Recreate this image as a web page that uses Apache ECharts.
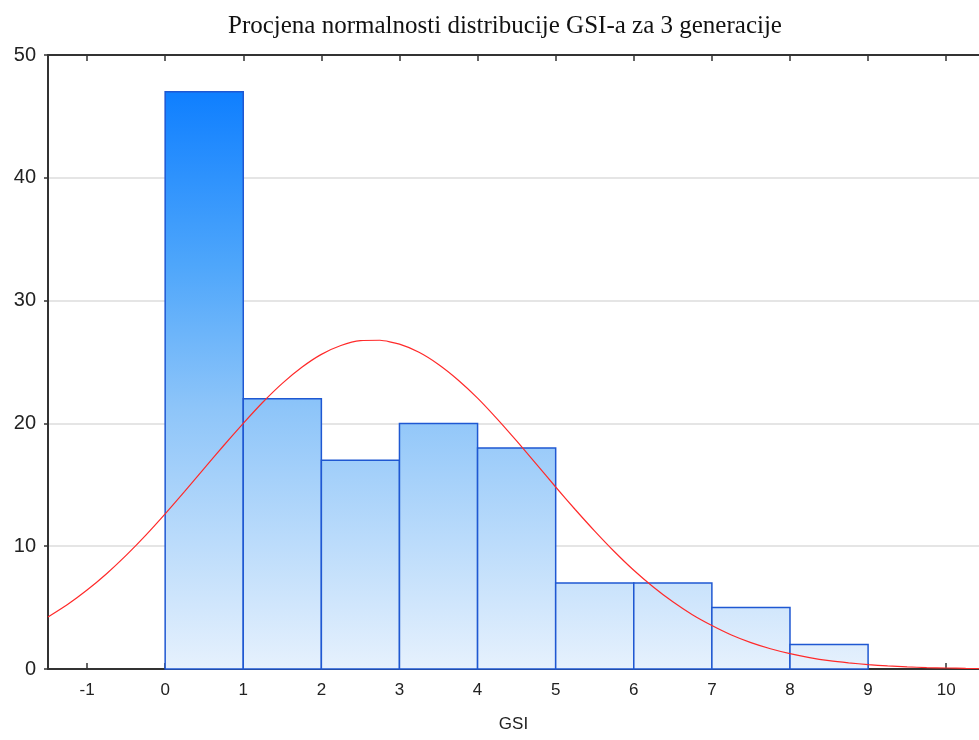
<!DOCTYPE html>
<html>
<head>
<meta charset="utf-8">
<script src="https://cdn.jsdelivr.net/npm/echarts@6/dist/echarts.min.js"></script>
<style>
  html, body { margin: 0; padding: 0; background: #fff; }
  #chart { width: 979px; height: 740px; }
</style>
</head>
<body>
<div id="chart"></div>
<script>
// histogram bins (GSI) and counts
const binStart = [0, 1, 2, 3, 4, 5, 6, 7, 8];
const binEnd = [1, 2, 3, 4, 5, 6, 7, 8, 9];
const counts = [47, 22, 17, 20, 18, 7, 7, 5, 2];

// expected normal curve
const curveX = [-1.5, -1.25, -1, -0.75, -0.5, -0.25, 0, 0.25, 0.5, 0.75, 1, 1.25, 1.5, 1.75, 2, 2.25, 2.5, 2.75,
  3, 3.25, 3.5, 3.75, 4, 4.25, 4.5, 4.75, 5, 5.25, 5.5, 5.75, 6, 6.25, 6.5, 6.75, 7, 7.25, 7.5, 7.75,
  8, 8.25, 8.5, 8.75, 9, 9.25, 9.5, 9.75, 10, 10.25, 10.5];
const curveY = [4.23, 5.25, 6.43, 7.76, 9.25, 10.88, 12.63, 14.46, 16.33, 18.2, 20.0, 21.72, 23.26, 24.57, 25.62, 26.34, 26.74, 26.77,
  26.45, 25.79, 24.8, 23.54, 22.06, 20.37, 18.57, 16.7, 14.82, 12.99, 11.23, 9.57, 8.04, 6.68, 5.47, 4.42, 3.54, 2.77, 2.15, 1.65,
  1.25, 0.93, 0.68, 0.5, 0.36, 0.25, 0.17, 0.12, 0.08, 0.05, 0.03];

const xTicks = [-1, 0, 1, 2, 3, 4, 5, 6, 7, 8, 9, 10];

const chart = echarts.init(document.getElementById("chart"));

const barData = binStart.map((s, i) => [s, binEnd[i], counts[i]]);
const lineData = curveX.map((x, i) => [x, curveY[i]]);

const options = {
  animation: false,
  title: {
    text: "Procjena normalnosti distribucije GSI-a za 3 generacije",
    left: 223,
    top: 9,
    textStyle: {
      fontFamily: "Liberation Serif",
      fontWeight: "normal",
      fontSize: 25,
      color: "#111"
    }
  },
  grid: {
    left: 48,
    right: 0,
    top: 55,
    bottom: 71
  },
  xAxis: [
    {
      type: "value",
      min: -1.5,
      max: 10.42,
      interval: 0.5,
      name: "GSI",
      nameLocation: "middle",
      nameGap: 47,
      nameTextStyle: { fontFamily: "Liberation Sans", fontSize: 17, color: "#222" },
      axisLine: { show: true, onZero: false, lineStyle: { color: "#333", width: 2 } },
      axisTick: {
        show: true,
        inside: true,
        length: 6,
        customValues: xTicks,
        lineStyle: { color: "#333", width: 1.5 }
      },
      axisLabel: {
        margin: 13,
        fontFamily: "Liberation Sans",
        fontSize: 17,
        color: "#222",
        customValues: xTicks
      },
      splitLine: { show: false }
    },
    {
      type: "value",
      position: "top",
      min: -1.5,
      max: 10.42,
      interval: 0.5,
      axisLine: { show: true, onZero: false, lineStyle: { color: "#333", width: 2 } },
      axisTick: {
        show: true,
        inside: true,
        length: 6,
        customValues: xTicks,
        lineStyle: { color: "#333", width: 1.5 }
      },
      axisLabel: { show: false },
      splitLine: { show: false }
    }
  ],
  yAxis: {
    type: "value",
    min: 0,
    max: 50,
    interval: 10,
    axisLine: { show: true, onZero: false, lineStyle: { color: "#333", width: 2 } },
    axisTick: { show: true, length: 4, lineStyle: { color: "#333", width: 1.5 } },
    axisLabel: {
      margin: 12,
      fontFamily: "Liberation Sans",
      fontSize: 20,
      color: "#222"
    },
    splitLine: { show: true, lineStyle: { color: "#dcdcdc", width: 1.5 } }
  },
  series: [
    {
      name: "GSI",
      type: "custom",
      renderItem: function (params, api) {
        const topLeft = api.coord([api.value(0), api.value(2)]);
        const bottomRight = api.coord([api.value(1), 0]);
        const gTop = api.coord([0, 47])[1];
        const gBottom = api.coord([0, 0])[1];
        return {
          type: "rect",
          shape: {
            x: topLeft[0],
            y: topLeft[1],
            width: bottomRight[0] - topLeft[0],
            height: bottomRight[1] - topLeft[1]
          },
          style: {
            fill: new echarts.graphic.LinearGradient(0, gTop, 0, gBottom, [
              { offset: 0, color: "#0f7fff" },
              { offset: 0.3, color: "#4ea6fb" },
              { offset: 0.55, color: "#8ec5f9" },
              { offset: 1, color: "#e6f1fd" }
            ], true),
            stroke: "#1f58d2",
            lineWidth: 1.5
          }
        };
      },
      encode: { x: [0, 1], y: 2 },
      data: barData,
      z: 2
    },
    {
      name: "Normal",
      type: "line",
      smooth: 0.2,
      showSymbol: false,
      clip: true,
      data: lineData,
      lineStyle: { color: "#ff2a2a", width: 1.2 },
      z: 3
    }
  ]
};

chart.setOption(options);

window.addEventListener("resize", () => {
  chart.resize();
});
</script>
</body>
</html>
